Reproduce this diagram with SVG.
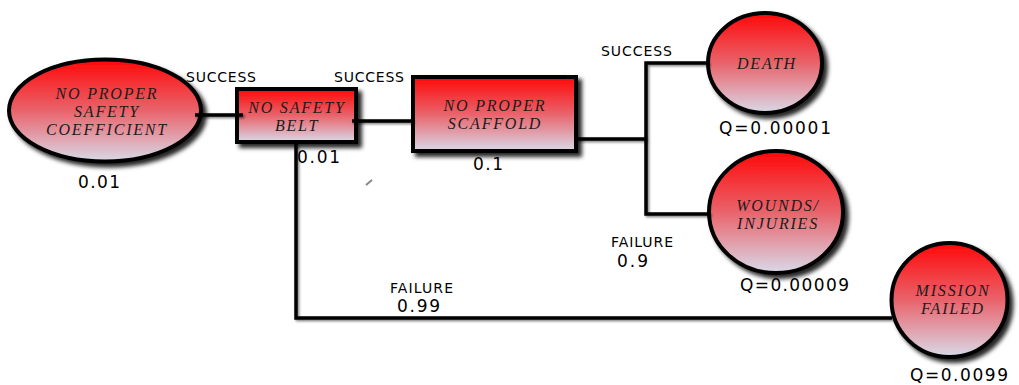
<svg xmlns="http://www.w3.org/2000/svg" width="1019" height="385" viewBox="0 0 1019 385">
<defs>
<linearGradient id="fillG" x1="0" y1="0" x2="0" y2="1">
<stop offset="0" stop-color="#ff0808"/>
<stop offset="0.5" stop-color="#e9636b"/>
<stop offset="1" stop-color="#d9d9e8"/>
</linearGradient>
<filter id="shadow" x="-20%" y="-20%" width="150%" height="150%">
<feDropShadow dx="4" dy="4" stdDeviation="2" flood-color="#000" flood-opacity="0.85"/>
</filter>
<filter id="lshadow" filterUnits="userSpaceOnUse" x="0" y="0" width="1019" height="385">
<feDropShadow dx="1.5" dy="1.5" stdDeviation="1" flood-color="#000" flood-opacity="0.5"/>
</filter>
</defs>
<style>
.shape{fill:url(#fillG);stroke:#000;stroke-width:4;filter:url(#shadow)}
.lbl{font-family:"Liberation Serif","Times New Roman",serif;font-style:italic;font-size:16px;fill:#1c1c1c;text-anchor:middle;letter-spacing:1.8px}
.num{font-family:"DejaVu Sans",Verdana,sans-serif;font-size:17px;fill:#000}
.tag{font-family:"DejaVu Sans",Verdana,sans-serif;font-size:14px;fill:#000}
.conn{fill:none;stroke:#000;stroke-width:3.5;filter:url(#lshadow)}
</style>
<rect width="1019" height="385" fill="#fff"/>

<g id="n1">
<ellipse class="shape" cx="105" cy="110.5" rx="96" ry="51"/>
<text class="lbl" x="107" y="99">NO PROPER</text>
<text class="lbl" x="107" y="117">SAFETY</text>
<text class="lbl" x="107" y="135">COEFFICIENT</text>
<text class="num" x="78" y="188" textLength="42" lengthAdjust="spacing">0.01</text>
</g>

<g id="n2">
<rect class="shape" x="237" y="89" width="119" height="53"/>
<text class="lbl" x="297" y="113">NO SAFETY</text>
<text class="lbl" x="297" y="131">BELT</text>
<text class="num" x="297" y="163" textLength="43" lengthAdjust="spacing">0.01</text>
</g>

<g id="n3">
<rect class="shape" x="413" y="77" width="163" height="74"/>
<text class="lbl" x="495" y="111">NO PROPER</text>
<text class="lbl" x="495" y="129">SCAFFOLD</text>
<text class="num" x="473" y="170" textLength="30" lengthAdjust="spacing">0.1</text>
</g>

<g id="n4">
<ellipse class="shape" cx="765" cy="63" rx="57" ry="50"/>
<text class="lbl" x="767" y="69">DEATH</text>
<text class="num" x="719" y="134" textLength="112" lengthAdjust="spacing">Q=0.00001</text>
</g>

<g id="n5">
<ellipse class="shape" cx="776" cy="212" rx="67" ry="61"/>
<text class="lbl" x="778" y="211">WOUNDS/</text>
<text class="lbl" x="778" y="229">INJURIES</text>
<text class="num" x="740" y="291" textLength="109" lengthAdjust="spacing">Q=0.00009</text>
</g>

<g id="n6">
<ellipse class="shape" cx="949.5" cy="300" rx="58" ry="57"/>
<text class="lbl" x="953" y="296">MISSION</text>
<text class="lbl" x="953" y="314">FAILED</text>
<text class="num" x="910" y="381" textLength="98" lengthAdjust="spacing">Q=0.0099</text>
</g>

<g id="connectors">
<path class="conn" d="M195,115 H243"/>
<path class="conn" d="M352,121 H413"/>
<path class="conn" d="M296,143 V318 H892"/>
<path class="conn" d="M577,139 H646"/>
<path class="conn" d="M709,63 H646 V214 H710"/>
<text class="tag" x="186" y="82" textLength="70" lengthAdjust="spacing">SUCCESS</text>
<text class="tag" x="334" y="82" textLength="70" lengthAdjust="spacing">SUCCESS</text>
<text class="tag" x="601" y="56" textLength="71" lengthAdjust="spacing">SUCCESS</text>
<text class="tag" x="611" y="247" textLength="62" lengthAdjust="spacing">FAILURE</text>
<text class="num" x="617" y="267" textLength="31" lengthAdjust="spacing">0.9</text>
<text class="tag" x="390" y="293" textLength="63" lengthAdjust="spacing">FAILURE</text>
<text class="num" x="397" y="312" textLength="43" lengthAdjust="spacing">0.99</text>
</g>
<line x1="366" y1="185" x2="372" y2="180" stroke="#888" stroke-width="2"/>
</svg>
